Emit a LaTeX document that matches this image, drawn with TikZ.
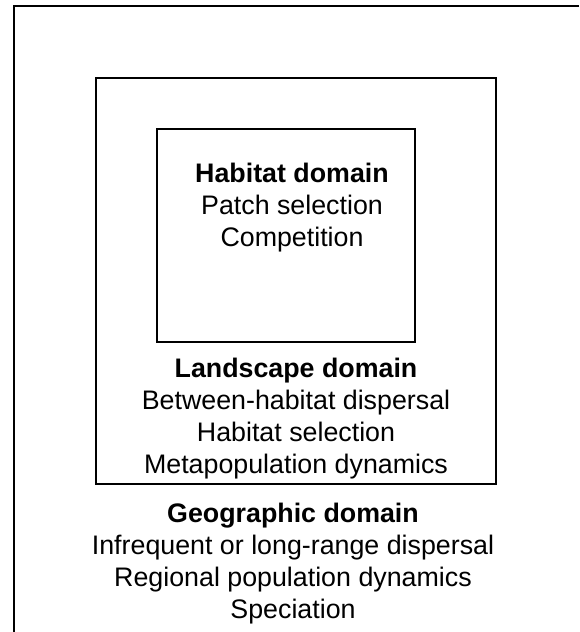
\documentclass[tikz,border=0pt]{standalone}
\usepackage{fontspec}
\setmainfont{Liberation Sans}
\begin{document}
\begin{tikzpicture}[x=0.5pt, y=-0.5pt,
    domtext/.style={align=center, anchor=north, inner sep=0pt,
        font=\fontsize{13.4pt}{16pt}\selectfont},
    domline/.style={line width=0.8pt}]

        \useasboundingbox (0,0) rectangle (579,632);

        % Geographic:
        \draw[domline] (579,6) -| (14,632);
        \node(GEO)[domtext] at (293,502.5){\textbf{Geographic domain}\\
            Infrequent or long-range dispersal\\
            Regional population dynamics\\
            Speciation};

        % Landscape:
        \draw[domline] (96,78) rectangle (496,484);
        \node(LAN)[domtext] at (296,358){\textbf{Landscape domain}\\
            Between-habitat dispersal\\
            Habitat selection\\
            Metapopulation dynamics};

        % Habitat:
        \draw[domline] (157,129) rectangle (415,342);
        \node(HAB)[domtext] at (292,163){\textbf{Habitat domain}\\
            Patch selection\\
            Competition};

\end{tikzpicture}
\end{document}
